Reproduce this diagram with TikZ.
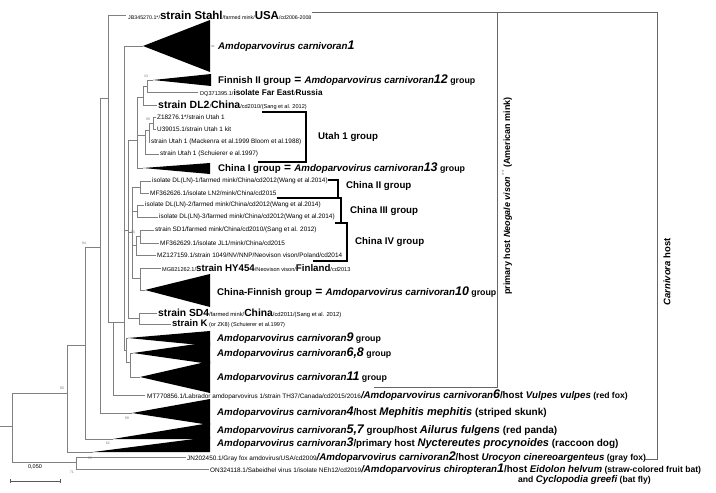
\documentclass[tikz,border=0pt]{standalone}
\usepackage{fontspec}
\setmainfont{Liberation Sans}
\newcommand{\fsm}{\fontsize{6.4}{7}\selectfont\mdseries\upshape}
\newcommand{\fxs}{\fontsize{5.6}{6}\selectfont\mdseries\upshape}
\newcommand{\fbb}{\fontsize{9.7}{11}\selectfont\bfseries\upshape}
\newcommand{\fbi}{\fontsize{9.7}{11}\selectfont\bfseries\itshape}
\newcommand{\fpar}{\fontsize{8.6}{10}\selectfont\bfseries\upshape}
\newcommand{\dg}[1]{{\fontsize{12.5}{12}\selectfont\bfseries\itshape #1}}
\newcommand{\Amd}{{\fbi Amdoparvovirus carnivoran}}
\newcommand{\eqs}{{\fontsize{12}{12}\selectfont\bfseries\ =\ }}
\newcommand{\grp}{{\fontsize{8.8}{10}\selectfont\bfseries\upshape\ group}}
\newcommand{\hn}{\fontsize{11}{12}\selectfont\bfseries\itshape}
\newcommand{\hp}{\fontsize{10}{12}\selectfont\bfseries\upshape}
\begin{document}
\begin{tikzpicture}[x=1pt,y=-1pt]
\tikzset{
  tr/.style={draw=gray, line width=0.7pt},
  bx/.style={draw=black, line width=1.3pt},
  brk/.style={draw=gray!80!black, line width=0.8pt},
  lab/.style={anchor=west, inner sep=0pt},
  bs/.style={font=\fontsize{3.6}{4}\selectfont, text=gray, inner sep=0pt}
}
\useasboundingbox[fill=white] (0,0) rectangle (716,493);
% ---------------- tree ----------------
\draw[tr] (0,426) -- (12,426);
\draw[tr] (67,393) -- (12,393) -- (12,462) -- (76,462);
\draw[tr] (186,457) -- (76,457) -- (76,469) -- (209,469);
\draw[tr] (85,345) -- (67,345) -- (67,452) -- (93,452);
\draw[tr] (100,247) -- (85,247) -- (85,439) -- (113,439);
\draw[tr] (108,98) -- (100,98) -- (100,413) -- (132,413);
\draw[tr] (126,15) -- (108,15) -- (108,322) -- (124,322);
\draw[tr] (113,322) -- (113,395) -- (145,395);
\draw[tr] (143,46) -- (124,46) -- (124,350) -- (126,350);
\draw[tr] (124,230) -- (128,230);
\draw[tr] (128,338) -- (126,338) -- (126,362) -- (130,362);
\draw[tr] (133,353) -- (130,353) -- (130,377) -- (140,377);
\draw[tr] (137,140) -- (128,140) -- (128,318) -- (139,318);
\draw[tr] (157,313) -- (139,313) -- (139,324) -- (171,324);
\draw[tr] (143,97) -- (137,97) -- (137,168) -- (143,168);
\draw[tr] (147,86) -- (143,86) -- (143,105) -- (157,105);
\draw[tr] (153,80) -- (147,80) -- (147,92) -- (198,92);
\draw[tr] (137,135) -- (145,135);
\draw[tr] (149,130) -- (145,130) -- (145,154) -- (159,154);
\draw[tr] (153,123) -- (149,123) -- (149,142) -- (150,142);
\draw[tr] (156,117) -- (153,117) -- (153,129) -- (156,129);
\draw[tr] (128,232) -- (132,232);
\draw[tr] (140,187) -- (132,187) -- (132,278) -- (140,278);
\draw[tr] (151,181) -- (140,181) -- (140,193) -- (149,193);
\draw[tr] (132,211) -- (137,211);
\draw[tr] (144,205) -- (137,205) -- (137,217) -- (158,217);
\draw[tr] (132,245) -- (136,245);
\draw[tr] (140,236) -- (136,236) -- (136,255) -- (156,255);
\draw[tr] (154,230) -- (140,230) -- (140,243) -- (159,243);
\draw[tr] (161,268) -- (140,268) -- (140,290) -- (145,290);
% ---------------- collapsed clades ----------------
\fill (143,46) -- (210,20) -- (210,72) -- cycle;
\fill (153,80) -- (211,74) -- (211,86) -- cycle;
\fill (143,168) -- (210,163) -- (210,174) -- cycle;
\fill (145,290) -- (210,274) -- (210,307) -- cycle;
\fill (128,338) -- (210,331) -- (210,346) -- cycle;
\fill (133,353) -- (210,342) -- (210,364) -- cycle;
\fill (140,377) -- (210,361) -- (210,393) -- cycle;
\fill (132,413) -- (210,399) -- (210,425) -- cycle;
\fill (113,439) -- (210,423) -- (210,439) -- cycle;
\fill (93,452) -- (210,437) -- (210,452) -- cycle;
% ---------------- bootstrap values ----------------
\node[bs] (b1) at (146,76) {43};
\node[bs] (b2) at (148,119) {90};
\node[bs] (b3) at (133,232) {90};
\node[bs] (b4) at (84,243) {94};
\node[bs] (b5) at (62,388) {90};
\node[bs] (b6) at (127,418) {99};
\node[bs] (b7) at (108,443) {62};
\node[bs] (b8) at (90,458) {95};
\node[bs] (b9) at (72,472) {71};
% ---------------- leaf labels ----------------
\node[lab] (t1) at (128,15) {\fontsize{5.3}{6}\selectfont JB345270.1*/{\fontsize{11.5}{12}\selectfont\bfseries strain Stahl}/farmed mink/{\fontsize{11.5}{12}\selectfont\bfseries USA}/cd2006-2008};
\node[lab, text=gray] (t2) at (211,47) {\fontsize{6}{6}\selectfont =};
\node[lab] (t2b) at (218,46) {\Amd\dg{1}};
\node[lab] (t3) at (218,80) {{\fbb Finnish II group}\eqs\Amd\dg{12}\grp};
\node[lab] (t4) at (200,93) {\fxs DQ371395.1/{\fontsize{8.2}{9}\selectfont\bfseries isolate Far East}/{\fontsize{8.2}{9}\selectfont\bfseries Russia}};
\node[lab] (t5) at (158,105) {{\fbb\fontsize{10.5}{12}\selectfont strain DL2}{\fxs /}{\fbb\fontsize{10.5}{12}\selectfont China}{\fxs /cd2010/(Sang et al. 2012)}};
\node[lab] (t6) at (157,117) {\fsm Z18276.1*/strain Utah 1};
\node[lab] (t7) at (157,129) {\fsm U39015.1/strain Utah 1 kit};
\node[lab] (t8) at (151,142) {\fsm strain Utah 1 (Mackenra et al.1999 Bloom et al.1988)};
\node[lab] (t9) at (160,154) {\fsm strain Utah 1 (Schuierer e al.1997)};
\node[lab] (t10) at (318,137) {\fbb Utah 1 group};
\node[lab] (t11) at (218,168) {{\fbb China I group}\eqs\Amd\dg{13}\grp};
\node[lab] (t12) at (152,181) {\fsm isolate DL(LN)-1/farmed mink/China/cd2012(Wang et al.2014)};
\node[lab] (t13) at (150,193) {\fsm MF362626.1/isolate LN2/mink/China/cd2015};
\node[lab] (t14) at (346,186) {\fbb China II group};
\node[lab] (t15) at (145,205) {\fsm isolate DL(LN)-2/farmed mink/China/cd2012(Wang et al.2014)};
\node[lab] (t16) at (159,217) {\fsm isolate DL(LN)-3/farmed mink/China/cd2012(Wang et al.2014)};
\node[lab] (t17) at (350,211) {\fbb China III group};
\node[lab] (t18) at (155,230) {\fsm strain SD1/farmed mink/China/cd2010/(Sang et al. 2012)};
\node[lab] (t19) at (160,243) {\fsm MF362629.1/isolate JL1/mink/China/cd2015};
\node[lab] (t20) at (157,255) {\fsm MZ127159.1/strain 1049/NV/NNP/Neovison vison/Poland/cd2014};
\node[lab] (t21) at (355,242) {\fbb China IV group};
\node[lab] (t22) at (162,268) {\fxs MG821262.1/{\fbb strain HY454}/Neovison vison/{\fbb Finland}/cd2013};
\node[lab] (t23) at (217,292) {{\fbb China-Finnish group}\eqs\Amd\dg{10}\grp};
\node[lab] (t24) at (158,313) {\fontsize{5.8}{6}\selectfont{\fbb\fontsize{10.3}{12}\selectfont strain SD4}/farmed mink/{\fbb\fontsize{10.3}{12}\selectfont China}/cd2011/(Sang et al. 2012)};
\node[lab] (t25) at (172,324) {{\fbb\fontsize{9.5}{10}\selectfont strain K}{\fontsize{5.6}{6}\selectfont\ (or ZK8) (Schuierer et al.1997)}};
\node[lab] (t26) at (217,338) {\Amd\dg{9}\grp};
\node[lab] (t27) at (217,353) {\Amd\dg{6,8}\grp};
\node[lab] (t28) at (217,377) {\Amd\dg{11}\grp};
\node[lab] (t29) at (147,395) {{\fsm MT770856.1/Labrador amdoparvovirus 1/strain TH37/Canada/cd2015/2016}{\fbi /}\Amd\dg{6}{\fbb /host }{\fbi Vulpes vulpes}{\fpar\ (red fox)}};
\node[lab] (t30) at (217,412) {\Amd\dg{4}{\fbb /host }{\hn Mephitis mephitis}{\hp\ (striped skunk)}};
\node[lab] (t31) at (217,430) {\Amd\dg{5,7}{\fbb\ group/host }{\hn Ailurus fulgens}{\hp\ (red panda)}};
\node[lab] (t32) at (217,443) {\Amd\dg{3}{\fbb /primary host }{\hn Nyctereutes procynoides}{\hp\ (raccoon dog)}};
\node[lab] (t33) at (187,457) {{\fsm JN202450.1/Gray fox amdovirus/USA/cd2009}{\fbi /}\Amd\dg{2}{\fbb /host }{\fbi Urocyon cinereoargenteus}{\fpar\ (gray fox)}};
\node[lab] (t34) at (210,469) {{\fsm ON324118.1/Sabeidhel virus 1/isolate NEh12/cd2019}{\fbi /Amdoparvovirus chiropteran}\dg{1}{\fbb /host }{\fbi Eidolon helvum}{\fpar\ (straw-colored fruit bat)}};
\node[lab] (t35) at (518,480) {{\fpar and }{\fbi Cyclopodia greefi}{\fpar\ (bat fly)}};
% ---------------- group boxes ----------------
\draw[bx] (262,112) -- (306,112) -- (306,162) -- (t9.east |- 0,162);
\draw[bx] (t12.east |- 0,180) -- (338,180) -- (338,198);
\draw[bx] (t13.east |- 0,198) -- (341,198) -- (341,223);
\draw[bx] (t16.east |- 0,223) -- (347,223) -- (347,261) -- (313,261);
% ---------------- host brackets ----------------
\draw[brk] ([yshift=3pt]t1.east) -- (657,12) -- (657,459) -- (645,459);
\draw[brk] (497,12) -- (497,387) -- (374,387);
\node[rotate=90, inner sep=0pt] (h1) at (507,196) {\fontsize{9}{10}\selectfont\bfseries primary host \textit{Neogale vison}{\mdseries\color{gray}\,\textsuperscript{**}} (American mink)};
\node[rotate=90, inner sep=0pt] (h2) at (667,272) {\fontsize{9.5}{10}\selectfont\bfseries \textit{Carnivora} host};
% ---------------- scale bar ----------------
\coordinate (s1) at (10,481);
\coordinate (s2) at (60,481);
\draw[line width=0.7pt, draw=gray!70!black] (s1) -- (s2);
\draw[line width=0.7pt, draw=gray!70!black] ([yshift=-2pt]s1) -- ([yshift=2pt]s1);
\draw[line width=0.7pt, draw=gray!70!black] ([yshift=-2pt]s2) -- ([yshift=2pt]s2);
\node[inner sep=0pt] (sc) at (35,467) {\fontsize{5.5}{6}\selectfont 0,050};
\end{tikzpicture}
\end{document}
